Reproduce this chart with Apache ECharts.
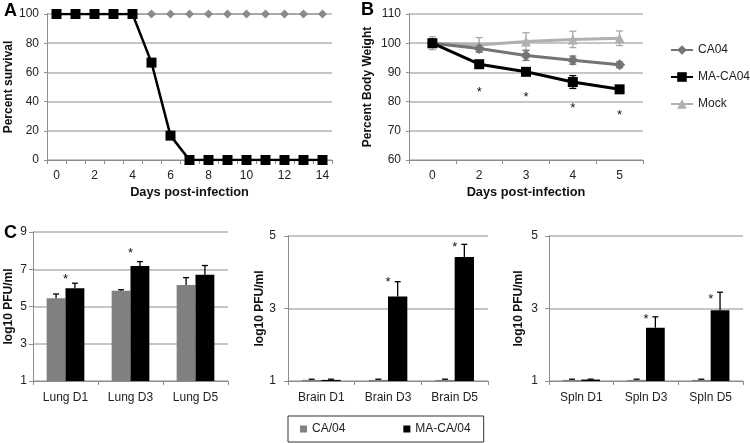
<!DOCTYPE html>
<html><head><meta charset="utf-8">
<script src="https://cdn.jsdelivr.net/npm/echarts@6/dist/echarts.min.js"></script>
<style>html,body{margin:0;padding:0;background:#fff}#c{width:750px;height:443px}</style>
</head><body><div id="c"></div><script>
// ---- Panel A: survival ----
const survDays = ['0','1','2','3','4','5','6','7','8','9','10','11','12','13','14'];
const survCA04 = [100,100,100,100,100,100,100,100,100,100,100,100,100,100,100];
const survMACA04 = [100,100,100,100,100,66.7,16.7,0,0,0,0,0,0,0,0];
// ---- Panel B: body weight ----
const weightDays = ['0','2','3','4','5'];
const wtCA04 = [100, 98.2, 95.8, 94.2, 92.6];
const wtCA04Err = [1.3, 1.2, 1.7, 1.4, 1.0];
const wtMACA04 = [100, 92.8, 90.2, 86.7, 84.2];
const wtMACA04Err = [1.3, 0.8, 1.0, 2.2, 0.8];
const wtMock = [100, 99.4, 100.6, 101.3, 101.7];
const wtMockErr = [2.2, 2.5, 3.0, 2.8, 2.5];
const wtStarIdx = [1, 2, 3, 4];
const wtStarY = [84.3, 82.3, 78.6, 76.3];
// ---- Panel C: titers ----
const lungCats = ['Lung D1','Lung D3','Lung D5'];
const lungCA = [5.44, 5.85, 6.16];
const lungCAErr = [0.23, 0.05, 0.39];
const lungMA = [5.98, 7.18, 6.70];
const lungMAErr = [0.27, 0.23, 0.50];
const lungStars = [[0, 6.6], [1, 8.0]];
const brainCats = ['Brain D1','Brain D3','Brain D5'];
const brainCA = [1.03, 1.03, 1.03];
const brainCAErr = [0.02, 0.02, 0.02];
const brainMA = [1.03, 3.33, 4.42];
const brainMAErr = [0.02, 0.41, 0.35];
const brainStars = [[1, 3.81], [2, 4.77]];
const splnCats = ['Spln D1','Spln D3','Spln D5'];
const splnCA = [1.03, 1.03, 1.03];
const splnCAErr = [0.02, 0.02, 0.02];
const splnMA = [1.04, 2.47, 2.95];
const splnMAErr = [0.01, 0.30, 0.50];
const splnStars = [[1, 2.79], [2, 3.34]];

const FONT = "'Liberation Sans', Arial, sans-serif";
const GRID_LINE = {lineStyle: {color: '#b3b3b3', width: 1.5}};
const AXIS_LINE = {lineStyle: {color: '#8c8c8c', width: 1}};
const LABEL = {color: '#222', fontSize: 12, fontFamily: FONT};
const NAME = {color: '#111', fontSize: 12, fontWeight: 'bold', fontFamily: FONT};
const XNAME = {color: '#111', fontSize: 12.8, fontWeight: 'bold', fontFamily: FONT};
const BAR_W = 0.145;

const chart = echarts.init(document.getElementById('c'), null, {renderer: 'canvas'});

function errBarsBar(gi, vals, errs, side) {
  return {
    type: 'custom', xAxisIndex: gi, yAxisIndex: gi, z: 5, silent: true,
    data: vals.map((v, i) => [i, v, errs[i]]),
    renderItem: function (params, api) {
      const c = api.coord([api.value(0), api.value(1)]);
      const t = api.coord([api.value(0), api.value(1) + api.value(2)]);
      const bw = api.size([1, 0])[0];
      const x = c[0] + side * bw * BAR_W;
      return {type: 'group', children: [
        {type: 'line', shape: {x1: x, y1: c[1], x2: x, y2: t[1]}, style: {stroke: '#000', lineWidth: 1.3}},
        {type: 'line', shape: {x1: x - 3, y1: t[1], x2: x + 3, y2: t[1]}, style: {stroke: '#000', lineWidth: 1.3}}
      ]};
    }
  };
}
function errBarsLine(gi, vals, errs, color) {
  return {
    type: 'custom', xAxisIndex: gi, yAxisIndex: gi, z: 1, silent: true,
    data: vals.map((v, i) => [i, v, errs[i]]),
    renderItem: function (params, api) {
      const lo = api.coord([api.value(0), api.value(1) - api.value(2)]);
      const hi = api.coord([api.value(0), api.value(1) + api.value(2)]);
      const x = lo[0];
      const s = {stroke: color, lineWidth: 1.3};
      return {type: 'group', children: [
        {type: 'line', shape: {x1: x, y1: lo[1], x2: x, y2: hi[1]}, style: s},
        {type: 'line', shape: {x1: x - 3.5, y1: lo[1], x2: x + 3.5, y2: lo[1]}, style: s},
        {type: 'line', shape: {x1: x - 3.5, y1: hi[1], x2: x + 3.5, y2: hi[1]}, style: s}
      ]};
    }
  };
}
function stars(gi, pts) {
  return {
    type: 'custom', xAxisIndex: gi, yAxisIndex: gi, z: 6, silent: true,
    data: pts,
    renderItem: function (params, api) {
      const p = api.coord([api.value(0), api.value(1)]);
      return {type: 'text', x: p[0], y: p[1] + 3, style: {text: '*', fill: '#111', font: '13px ' + FONT, align: 'center', verticalAlign: 'middle'}};
    }
  };
}
function catX(gi, cats) {
  return {
    type: 'category', gridIndex: gi, data: cats, boundaryGap: true,
    axisLine: AXIS_LINE, axisTick: {show: true, interval: 0, length: 4, lineStyle: {color: '#8c8c8c'}},
    axisLabel: Object.assign({}, LABEL, {margin: 11, interval: 0}), splitLine: {show: false}
  };
}
function valY(gi, min, max, interval, nameGap, margin) {
  return {
    type: 'value', gridIndex: gi, min: min, max: max, interval: interval,
    name: 'log10 PFU/ml', nameLocation: 'middle', nameGap: nameGap, nameTextStyle: NAME,
    axisLine: {show: true, lineStyle: {color: '#8c8c8c', width: 1}},
    axisTick: {show: true, length: 4, lineStyle: {color: '#8c8c8c'}},
    axisLabel: Object.assign({}, LABEL, {margin: margin}), splitLine: GRID_LINE
  };
}
function bars(gi, name, vals, color) {
  return {type: 'bar', name: name, xAxisIndex: gi, yAxisIndex: gi, data: vals,
    barWidth: (BAR_W * 200) + '%', barGap: '0%', itemStyle: {color: color}, z: 3, silent: true};
}

const option = {
  animation: false,
  backgroundColor: '#fff',
  textStyle: {fontFamily: FONT},
  title: [
    {text: 'A', left: -1, top: -3, textStyle: {fontSize: 18, fontWeight: 'bold', color: '#000', fontFamily: FONT}},
    {text: 'B', left: 356, top: -4, textStyle: {fontSize: 18, fontWeight: 'bold', color: '#000', fontFamily: FONT}},
    {text: 'C', left: -1, top: 219, textStyle: {fontSize: 18, fontWeight: 'bold', color: '#000', fontFamily: FONT}}
  ],
  legend: [
    {
      orient: 'vertical', left: 665, top: 39, itemGap: 15, itemWidth: 22, itemHeight: 12,
      data: ['CA04', 'MA-CA04', 'Mock'],
      textStyle: {fontSize: 12, color: '#222', fontFamily: FONT}
    },
    {
      orient: 'horizontal', left: 288, top: 416, itemGap: 58, itemWidth: 7, itemHeight: 7,
      padding: [7, 13, 7, 12], borderColor: '#333', borderWidth: 1,
      data: [{name: 'CA/04', icon: 'rect'}, {name: 'MA-CA/04', icon: 'rect'}],
      textStyle: {fontSize: 12, color: '#222', fontFamily: FONT}
    }
  ],
  grid: [
    {left: 47, top: 14, width: 285, height: 146},
    {left: 409, top: 14, width: 234, height: 146},
    {left: 33, top: 232, width: 195, height: 149},
    {left: 288, top: 236, width: 200, height: 145},
    {left: 549, top: 236, width: 194, height: 145}
  ],
  xAxis: [
    {
      type: 'category', gridIndex: 0, data: survDays, boundaryGap: true,
      name: 'Days post-infection', nameLocation: 'middle', nameGap: 26, nameTextStyle: XNAME,
      axisLine: AXIS_LINE, axisTick: {show: true, interval: 0, length: 4, lineStyle: {color: '#8c8c8c'}},
      axisLabel: Object.assign({}, LABEL, {margin: 10, interval: 1}), splitLine: {show: false}
    },
    {
      type: 'category', gridIndex: 1, data: weightDays, boundaryGap: true,
      name: 'Days post-infection', nameLocation: 'middle', nameGap: 26, nameTextStyle: XNAME,
      axisLine: AXIS_LINE, axisTick: {show: true, interval: 0, length: 4, lineStyle: {color: '#8c8c8c'}},
      axisLabel: Object.assign({}, LABEL, {margin: 10, interval: 0}), splitLine: {show: false}
    },
    catX(2, lungCats), catX(3, brainCats), catX(4, splnCats)
  ],
  yAxis: [
    {
      type: 'value', gridIndex: 0, min: 0, max: 100, interval: 20,
      name: 'Percent survival', nameLocation: 'middle', nameGap: 30, nameTextStyle: NAME,
      axisLine: {show: true, lineStyle: {color: '#8c8c8c', width: 1}},
      axisTick: {show: true, length: 3, lineStyle: {color: '#8c8c8c'}},
      axisLabel: Object.assign({}, LABEL, {margin: 8}), splitLine: GRID_LINE
    },
    {
      type: 'value', gridIndex: 1, min: 60, max: 110, interval: 10,
      name: 'Percent Body Weight', nameLocation: 'middle', nameGap: 35, nameTextStyle: NAME,
      axisLine: {show: true, lineStyle: {color: '#8c8c8c', width: 1}},
      axisTick: {show: true, length: 3, lineStyle: {color: '#8c8c8c'}},
      axisLabel: Object.assign({}, LABEL, {margin: 8}), splitLine: GRID_LINE
    },
    valY(2, 1, 9, 2, 18, 6),
    valY(3, 1, 5, 2, 19, 12),
    valY(4, 1, 5, 2, 24, 11)
  ],
  series: [
    {type: 'line', name: 'survCA04', xAxisIndex: 0, yAxisIndex: 0, data: survCA04,
      symbol: 'diamond', symbolSize: 9, itemStyle: {color: '#8a8a8a'}, lineStyle: {color: '#999', width: 1.5}, z: 2, silent: true},
    {type: 'line', name: 'survMACA04', xAxisIndex: 0, yAxisIndex: 0, data: survMACA04,
      symbol: 'rect', symbolSize: 10, itemStyle: {color: '#000'}, lineStyle: {color: '#000', width: 2.5}, z: 3, silent: true},
    errBarsLine(1, wtMock, wtMockErr, '#a8a8a8'),
    errBarsLine(1, wtCA04, wtCA04Err, '#707070'),
    errBarsLine(1, wtMACA04, wtMACA04Err, '#000'),
    {type: 'line', name: 'Mock', xAxisIndex: 1, yAxisIndex: 1, data: wtMock,
      symbol: 'triangle', symbolSize: 10, itemStyle: {color: '#b0b0b0'}, lineStyle: {color: '#b0b0b0', width: 3}, z: 2, silent: true},
    {type: 'line', name: 'CA04', xAxisIndex: 1, yAxisIndex: 1, data: wtCA04,
      symbol: 'diamond', symbolSize: 11, itemStyle: {color: '#747474'}, lineStyle: {color: '#747474', width: 3}, z: 3, silent: true},
    {type: 'line', name: 'MA-CA04', xAxisIndex: 1, yAxisIndex: 1, data: wtMACA04,
      symbol: 'rect', symbolSize: 10, itemStyle: {color: '#000'}, lineStyle: {color: '#000', width: 3}, z: 4, silent: true},
    {type: 'custom', xAxisIndex: 1, yAxisIndex: 1, z: 6, silent: true,
      data: wtStarIdx.map((d, i) => [d, wtStarY[i]]),
      renderItem: function (params, api) {
        const p = api.coord([api.value(0), api.value(1)]);
        return {type: 'text', x: p[0], y: p[1] + 3, style: {text: '*', fill: '#111', font: '13px ' + FONT, align: 'center', verticalAlign: 'middle'}};
      }},
    bars(2, 'CA/04', lungCA, '#808080'), bars(2, 'MA-CA/04', lungMA, '#000'),
    errBarsBar(2, lungCA, lungCAErr, -1), errBarsBar(2, lungMA, lungMAErr, 1), stars(2, lungStars),
    bars(3, 'CA/04', brainCA, '#808080'), bars(3, 'MA-CA/04', brainMA, '#000'),
    errBarsBar(3, brainCA, brainCAErr, -1), errBarsBar(3, brainMA, brainMAErr, 1), stars(3, brainStars),
    bars(4, 'CA/04', splnCA, '#808080'), bars(4, 'MA-CA/04', splnMA, '#000'),
    errBarsBar(4, splnCA, splnCAErr, -1), errBarsBar(4, splnMA, splnMAErr, 1), stars(4, splnStars)
  ]
};
chart.setOption(option);
</script></body></html>
